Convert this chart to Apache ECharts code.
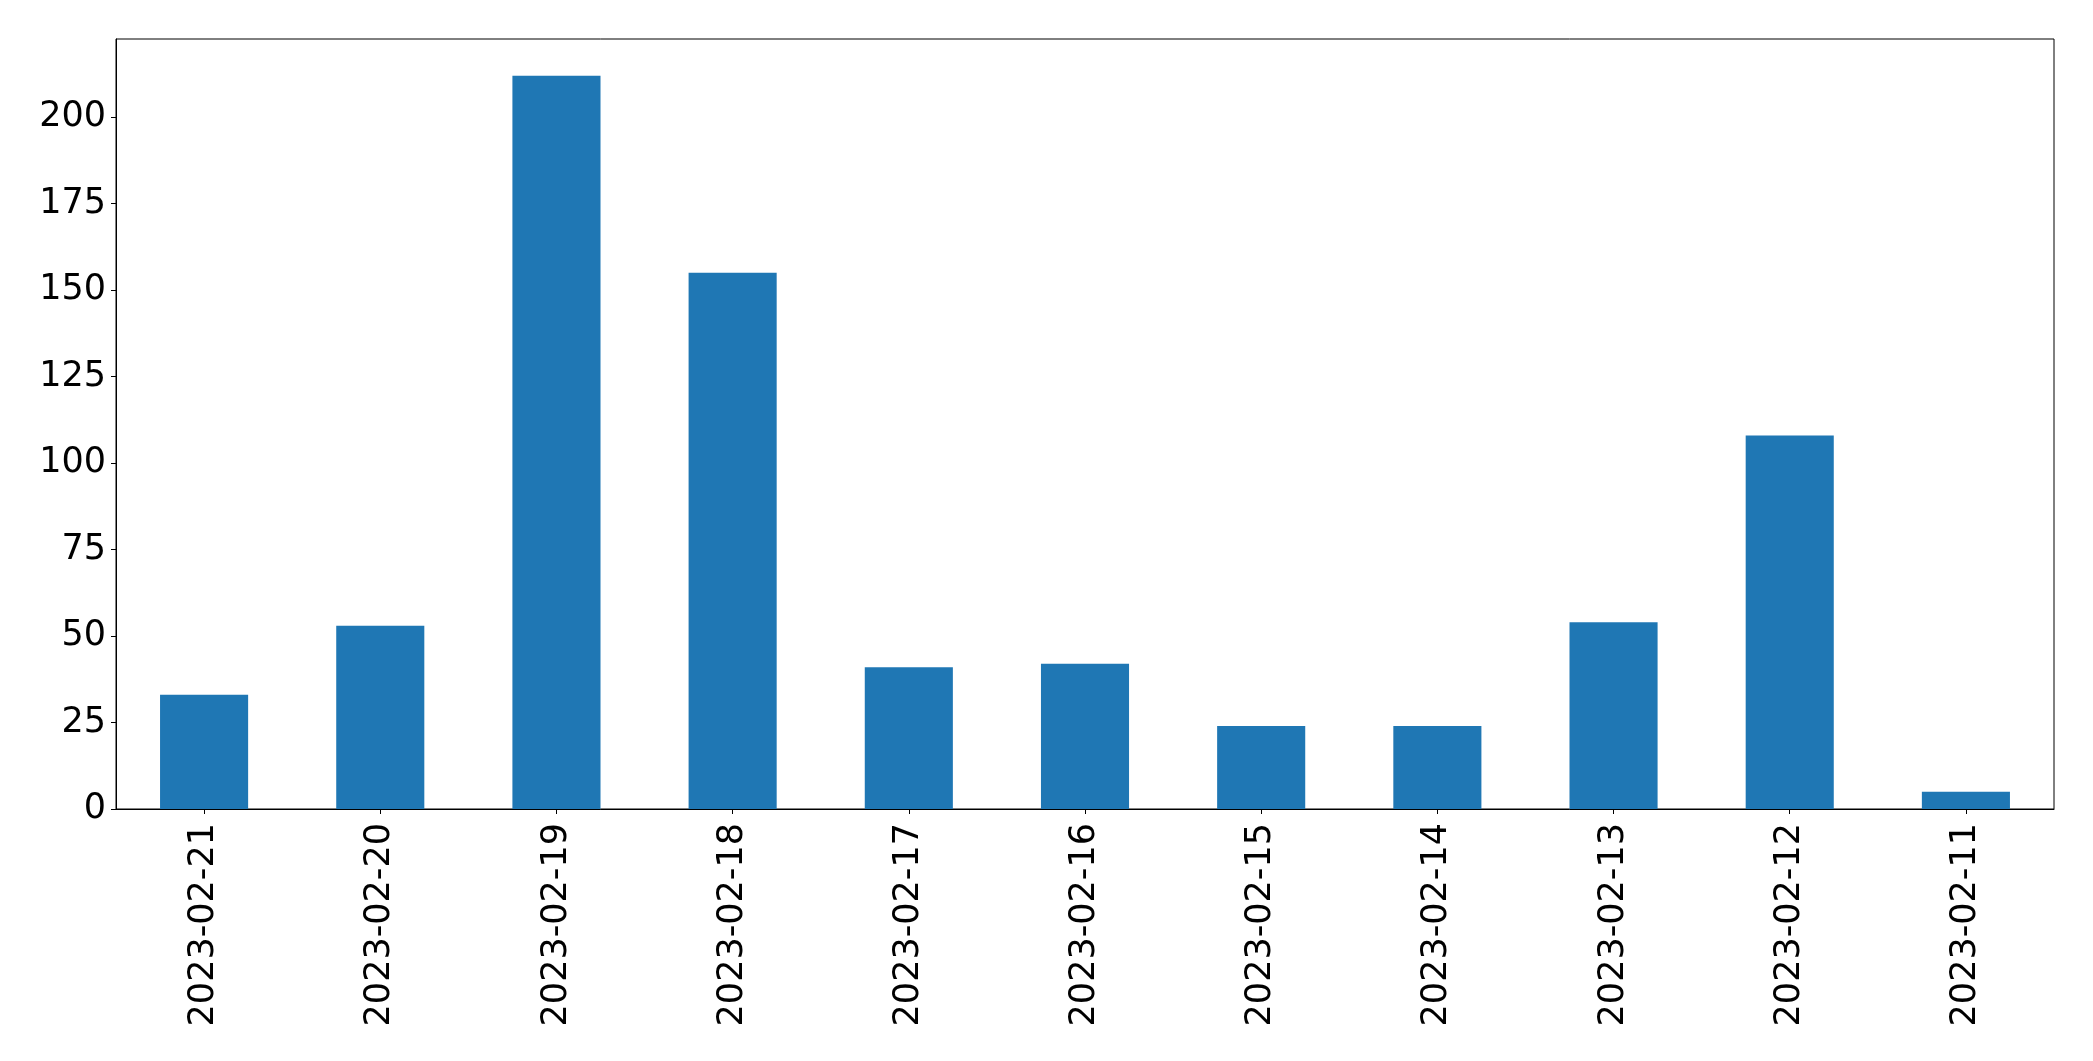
<!DOCTYPE html>
<html>
<head>
<meta charset="utf-8">
<script src="https://cdn.jsdelivr.net/npm/echarts@6/dist/echarts.min.js"></script>
<style>
html,body{margin:0;padding:0;background:#fff;}
#c{width:2093px;height:1061px;}
</style>
</head>
<body>
<div id="c"></div>
<script>
const categories = ['2023-02-21','2023-02-20','2023-02-19','2023-02-18','2023-02-17','2023-02-16','2023-02-15','2023-02-14','2023-02-13','2023-02-12','2023-02-11'];
const values = [33, 53, 212, 155, 41, 42, 24, 24, 54, 108, 5];
const yTicks = [0, 25, 50, 75, 100, 125, 150, 175, 200];

const chart = echarts.init(document.getElementById('c'));
const font = 'DejaVu Sans';
chart.setOption({
  animation: false,
  backgroundColor: '#fff',
  grid: {left: 116, right: 39, top: 39, bottom: 252, show: true, borderColor: '#000', borderWidth: 1, backgroundColor: 'transparent'},
  xAxis: {
    type: 'category',
    data: categories,
    boundaryGap: true,
    axisLine: {show: true, lineStyle: {color: '#000', width: 1}},
    axisTick: {show: true, alignWithLabel: true, length: 5, lineStyle: {color: '#000', width: 1}},
    axisLabel: {rotate: 90, fontFamily: font, fontSize: 35, color: '#000', margin: 14, interval: 0},
    splitLine: {show: false}
  },
  yAxis: {
    type: 'value',
    min: 0,
    max: 222.6,
    interval: 25,
    axisLine: {show: true, lineStyle: {color: '#000', width: 1}},
    axisTick: {show: true, length: 5, lineStyle: {color: '#000', width: 1}, customValues: yTicks},
    axisLabel: {fontFamily: font, fontSize: 35, color: '#000', margin: 10, customValues: yTicks},
    splitLine: {show: false}
  },
  series: [{
    type: 'bar',
    data: values,
    barWidth: '50%',
    itemStyle: {color: '#1f77b4'}
  }]
});
</script>
</body>
</html>
